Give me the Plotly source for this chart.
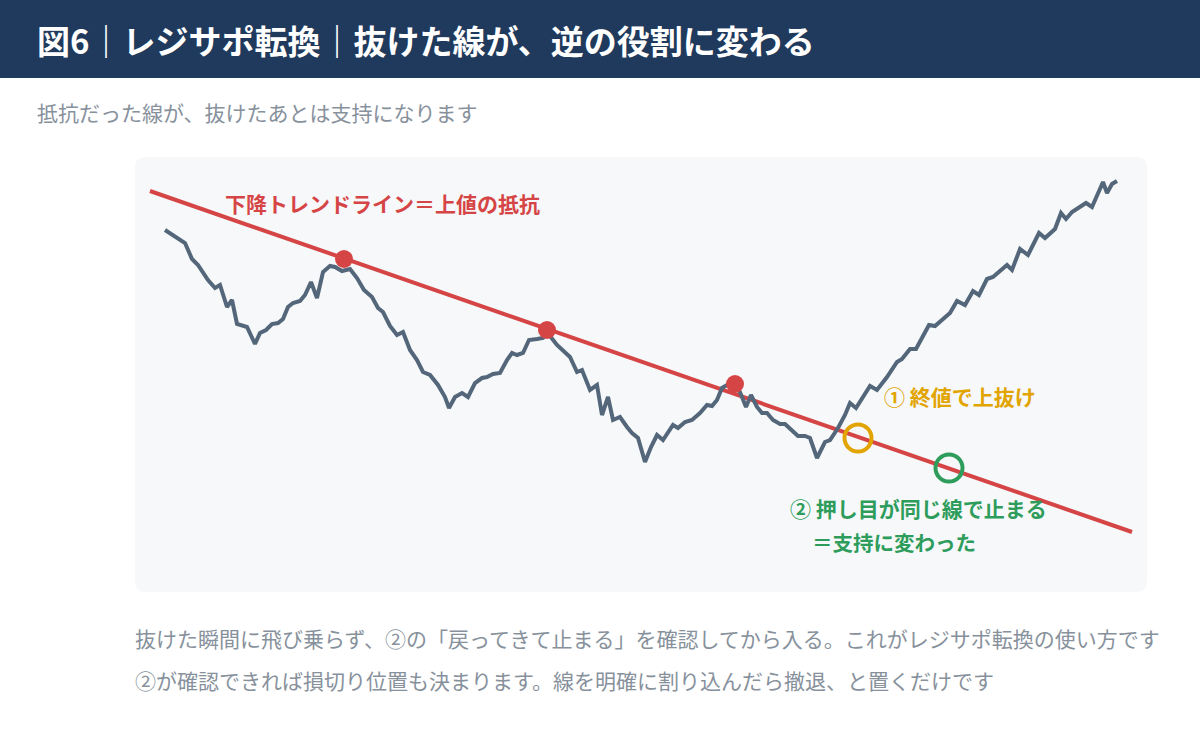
import plotly.graph_objects as go

# ---- data ----
t = [165,185,192,198,208,215,220,227,232,237,247,255,260,266,272,278,283,288,293,300,
     305,311,317,323,330,335,342,350,357,364,372,378,383,390,397,403,410,417,423,430,
     438,445,449,455,462,468,475,482,487,493,500,507,512,517,523,529,537,543,547,550,
     557,563,570,577,582,590,597,602,608,613,620,627,632,638,645,651,657,663,673,678,
     685,692,700,707,712,717,722,727,732,740,746,751,757,762,767,773,780,785,792,798,
     805,810,817,825,830,838,845,850,856,862,870,877,887,897,902,910,916,929,935,950,
     957,965,973,979,987,993,1007,1012,1020,1028,1039,1045,1055,1061,1066,1072,1086,1092,1103,1107,
     1112,1117]
py = [230,243,259,265,280,288,285,307,300,324,327,344,333,330,324,323,319,307,303,301,
      295,282,298,272,266,267,271,269,278,290,297,308,312,326,335,332,350,360,372,375,
      385,397,408,397,393,397,383,378,377,374,373,360,353,355,353,340,339,338,333,336,
      345,351,357,372,370,390,385,415,397,420,417,427,433,438,462,447,435,440,425,428,
      422,420,413,405,406,400,388,385,383,392,407,395,407,413,413,420,424,424,430,436,
      436,438,458,442,440,428,415,403,408,398,386,390,377,362,359,349,349,325,326,313,
      301,305,291,295,279,277,265,270,249,255,233,238,229,213,219,212,203,207,182,193,
      184,181]
price = [750 - v for v in py]

trend_t = [150, 1132]
trend_price = [750 - 191, 750 - 532]

touch_t = [344, 547, 735]
touch_price = [750 - 259, 750 - 330, 750 - 384]

break_t, break_price = [858], [750 - 438]
retest_t, retest_price = [949], [750 - 468]

title = "図6｜レジサポ転換｜抜けた線が、逆の役割に変わる"
subtitle = "抵抗だった線が、抜けたあとは支持になります"
trend_label = "下降トレンドライン＝上値の抵抗"
break_label = "① 終値で上抜け"
retest_label1 = "② 押し目が同じ線で止まる"
retest_label2 = "＝支持に変わった"
note1 = "抜けた瞬間に飛び乗らず、②の「戻ってきて止まる」を確認してから入る。これがレジサポ転換の使い方です"
note2 = "②が確認できれば損切り位置も決まります。線を明確に割り込んだら撤退、と置くだけです"

FONT = "Noto Sans CJK JP"
RED = "#d64545"
AMBER = "#e2a400"
GREEN = "#2e9d5c"
NAVY = "#1f3a5c"
GRAY = "#87919c"
LINE = "#54677a"

fig = go.Figure()

fig.add_trace(go.Scatter(x=trend_t, y=trend_price, mode="lines",
                         line=dict(color=RED, width=4), hoverinfo="skip"))
fig.add_trace(go.Scatter(x=t, y=price, mode="lines",
                         line=dict(color=LINE, width=4), hoverinfo="skip"))
fig.add_trace(go.Scatter(x=touch_t, y=touch_price, mode="markers",
                         marker=dict(color=RED, size=18, line=dict(width=0)), hoverinfo="skip"))
fig.add_trace(go.Scatter(x=break_t, y=break_price, mode="markers",
                         marker=dict(symbol="circle-open", size=27, color=AMBER,
                                     line=dict(color=AMBER, width=4)), hoverinfo="skip"))
fig.add_trace(go.Scatter(x=retest_t, y=retest_price, mode="markers",
                         marker=dict(symbol="circle-open", size=27, color=GREEN,
                                     line=dict(color=GREEN, width=4)), hoverinfo="skip"))

def rounded(x0, y0, x1, y1, r):
    return (f"M {x0+r},{y0} L {x1-r},{y0} Q {x1},{y0} {x1},{y0+r} "
            f"L {x1},{y1-r} Q {x1},{y1} {x1-r},{y1} L {x0+r},{y1} "
            f"Q {x0},{y1} {x0},{y1-r} L {x0},{y0+r} Q {x0},{y0} {x0+r},{y0} Z")

shapes = [
    dict(type="rect", xref="x", yref="y", x0=0, x1=1200, y0=750-78, y1=750,
         fillcolor=NAVY, line=dict(width=0), layer="below"),
    dict(type="path", xref="x", yref="y", path=rounded(135, 750-592, 1147, 750-157, 10),
         fillcolor="#f6f8fa", line=dict(width=0), layer="below"),
]

def ann(x, y, text, size, color, bold=False, xanchor="left"):
    return dict(x=x, y=750 - y, xref="x", yref="y", text=text, showarrow=False,
                xanchor=xanchor, yanchor="middle",
                font=dict(family=FONT, size=size, color=color,
                          weight="bold" if bold else "normal"))

annotations = [
    ann(35, 40, title, 33, "white", True),
    ann(35, 112, subtitle, 21, GRAY),
    ann(223, 203, trend_label, 21, RED, True),
    ann(882, 396, break_label, 21, AMBER, True),
    ann(788, 508, retest_label1, 21, GREEN, True),
    ann(810, 542, retest_label2, 20.5, GREEN, True),
    ann(133, 638, note1, 21, GRAY),
    ann(133, 680, note2, 21, GRAY),
]

fig.update_layout(
    width=1200, height=750,
    margin=dict(l=0, r=0, t=0, b=0),
    paper_bgcolor="white", plot_bgcolor="white",
    showlegend=False,
    xaxis=dict(range=[0, 1200], visible=False, fixedrange=True),
    yaxis=dict(range=[0, 750], visible=False, fixedrange=True),
    shapes=shapes, annotations=annotations,
    font=dict(family=FONT),
)

fig.write_html("out.html", config={"displayModeBar": False})
